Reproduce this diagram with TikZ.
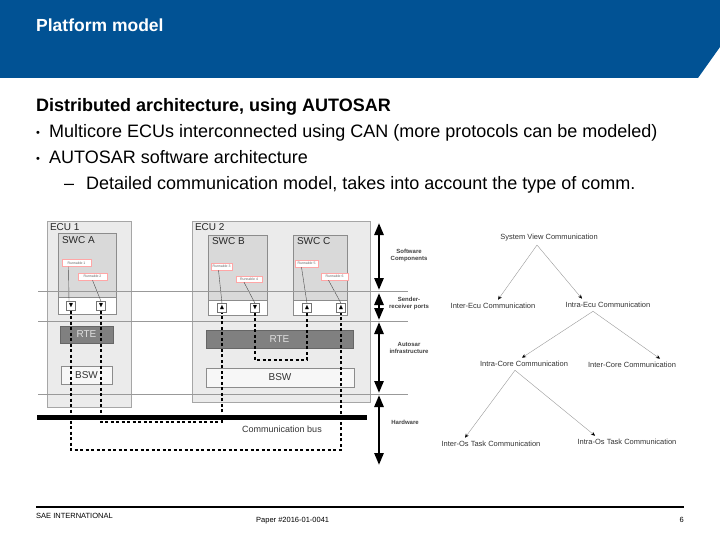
\documentclass[tikz,border=0pt]{standalone}
\usepackage{fontspec}
\setmainfont{Liberation Sans}
\usepackage{amssymb}
\usepackage{tikz}
\usetikzlibrary{positioning}
\usetikzlibrary{calc,arrows.meta}
\definecolor{saeblue}{RGB}{1,82,148}
\tikzset{
	semithick,
	ecu/.style = {draw=black!35, fill=black!8, inner sep=0pt},
	swc/.style = {draw=black!45, fill=black!15, inner sep=0pt},
	strip/.style = {draw=black!45, fill=white, inner sep=0pt},
	port/.style = {draw=black!55, fill=white, minimum size=9pt, inner sep=0pt,
		font=\fontsize{7}{7}\selectfont},
	runbox/.style = {draw=red!35, fill=white, inner sep=0pt, thin,
		font=\fontsize{3.5}{4}\selectfont, text=black!60},
	rte/.style = {draw=black!60, fill=black!50, inner sep=0pt, text=black!12,
		font=\fontsize{10}{12}\selectfont},
	bsw/.style = {draw=black!45, fill=black!3, inner sep=0pt, text=black!80,
		font=\fontsize{10}{12}\selectfont},
	blk/.style = {anchor=north west, inner sep=0pt, text=black!85,
		font=\fontsize{10}{12}\selectfont},
	sig/.style = {line width=2.2pt, dash pattern=on 3pt off 2.5pt},
	sep/.style = {draw=black!40, thin},
	layer/.style = {line width=2.6pt,
		{Triangle[width=9pt,length=12pt]}-{Triangle[width=9pt,length=12pt]}},
	lay/.style = {font=\bfseries\fontsize{6}{7}\selectfont, text=black!75, align=center},
	tree/.style = {font=\fontsize{7.5}{9}\selectfont, text=black!80},
	tarr/.style = {draw=black!40, thin, -{Stealth[length=4pt, width=3.5pt, color=black]}},
	body/.style = {anchor=base west, inner sep=0pt, font=\fontsize{18}{21}\selectfont},
	foot/.style = {inner sep=0pt, font=\fontsize{7.5}{9}\selectfont},
}
\begin{document}
\begin{tikzpicture}[x=1pt, y=-1pt]
	\useasboundingbox (0,0) rectangle (720,540);
	\fill[saeblue] (0,0) -- (720,0) -- (720,47) -- (698,78) -- (0,78) -- cycle;
	\node (title) [anchor=west, inner sep=0pt, text=white,
		font=\bfseries\fontsize{17.5}{20}\selectfont] at (36,25) {Platform model};

	\node (head) [body, font=\bfseries\fontsize{18}{21}\selectfont] at (36,112)
		{Distributed architecture, using AUTOSAR};
	\node (b1) [body, font=\fontsize{11}{12}\selectfont] at (36,137) {\textbullet};
	\node (t1) [body] at (49,138) {Multicore ECUs interconnected using CAN (more protocols can be modeled)};
	\node (b2) [body, font=\fontsize{11}{12}\selectfont] at (36,163) {\textbullet};
	\node (t2) [body] at (49,164) {AUTOSAR software architecture};
	\node (b3) [body] at (64,190) {--};
	\node (t3) [body] at (86,190) {Detailed communication model, takes into account the type of comm.};

	\node (ecua) [ecu, minimum width=84, minimum height=186] at (89,314) {};
	\node (ecub) [ecu, minimum width=178, minimum height=181] at (281,311.5) {};
	\node (ecualbl) [blk] at ([shift={(3,3)}]ecua.north west) {ECU 1};
	\node (ecublbl) [blk] at ([shift={(3,3)}]ecub.north west) {ECU 2};

	\node (swca) [swc, minimum width=58, minimum height=64] at (87,265.5) {};
	\node (stra) [strip, minimum width=58, minimum height=17] at (87,306) {};
	\node (swcb) [swc, minimum width=59, minimum height=65] at (237.5,267.5) {};
	\node (strb) [strip, minimum width=59, minimum height=15] at (237.5,307.5) {};
	\node (swcc) [swc, minimum width=54, minimum height=65] at (320,267.5) {};
	\node (strc) [strip, minimum width=54, minimum height=15] at (320,307.5) {};
	\node (swcalbl) [blk] at ([shift={(4,3)}]swca.north west) {SWC A};
	\node (swcblbl) [blk] at ([shift={(4,3)}]swcb.north west) {SWC B};
	\node (swcclbl) [blk] at ([shift={(4,3)}]swcc.north west) {SWC C};

	\node (r1) [runbox, minimum width=29, minimum height=7] at (76.5,263) {Runnable 1};
	\node (r2) [runbox, minimum width=29, minimum height=7] at (92.5,276.5) {Runnable 2};
	\node (r3) [runbox, minimum width=21, minimum height=7] at (221.5,266.5) {Runnable 3};
	\node (r4) [runbox, minimum width=26, minimum height=6] at (249,279) {Runnable 4};
	\node (r5) [runbox, minimum width=23, minimum height=7] at (306.5,263.5) {Runnable 5};
	\node (r6) [runbox, minimum width=27, minimum height=7] at (334.5,276.5) {Runnable 6};

	\node (pa1) [port] at (71,306) {$\blacktriangledown$};
	\node (pa2) [port] at (101,306) {$\blacktriangledown$};
	\node (pb1) [port] at (222,308) {$\blacktriangle$};
	\node (pb2) [port] at (255,308) {$\blacktriangledown$};
	\node (pc1) [port] at (307,308) {$\blacktriangle$};
	\node (pc2) [port] at (341,308) {$\blacktriangle$};

	\draw[black!70, thin] ([xshift=-8]r1.south) -- ([xshift=-2]pa1.north);
	\draw[black!70, thin] (r2.south) -- (pa2.north);
	\draw[black!70, thin] ([xshift=-3]r3.south) -- (pb1.north);
	\draw[black!70, thin] ([xshift=-5]r4.south) -- (pb2.north);
	\draw[black!70, thin] ([xshift=-5]r5.south) -- (pc1.north);
	\draw[black!70, thin] ([xshift=-6]r6.south) -- (pc2.north);

	\node (rtea) [rte, minimum width=53, minimum height=17] at (86.5,334.5) {RTE};
	\node (rteb) [rte, minimum width=147, minimum height=18] at (279.5,339) {RTE};
	\node (bswa) [bsw, minimum width=51, minimum height=18] at (86.5,375) {BSW};
	\node (bswb) [bsw, minimum width=148, minimum height=19] at (280,377.5) {BSW};

	\draw[sep] (38,291) -- (408,291);
	\draw[sep] (38,321) -- (408,321);
	\draw[sep] (38,394) -- (408,394);

	\node (bus) [fill=black, minimum width=330, minimum height=5, inner sep=0pt] at (202,417) {};
	\node (buslbl) [font=\fontsize{9}{11}\selectfont, text=black!80] at (282,429) {Communication bus};

	\coordinate (low) at (0,450);
	\coordinate (mid) at (0,422);
	\coordinate (inn) at (0,360);
	\draw[sig] (pa1.south) -- (pa1.south |- low) -| (pc2.south);
	\draw[sig] (pa2.south) -- (pa2.south |- mid) -| (pb1.south);
	\draw[sig] (pb2.south) -- (pb2.south |- inn) -| (pc1.south);

	\coordinate (s0) at (379,223);
	\coordinate (s1) at (379,290);
	\coordinate (s2) at (379,293);
	\coordinate (s3) at (379,320);
	\coordinate (s4) at (379,322);
	\coordinate (s5) at (379,393);
	\coordinate (s6) at (379,395);
	\coordinate (s7) at (379,465);
	\draw[layer] (s0) -- (s1);
	\draw[layer] (s2) -- (s3);
	\draw[layer] (s4) -- (s5);
	\draw[layer] (s6) -- (s7);
	\node (lsw) [lay] at (409,255) {Software\\Components};
	\node (lsr) [lay] at (409,303) {Sender-\\receiver ports};
	\node (lai) [lay] at (409,348) {Autosar\\infrastructure};
	\node (lhw) [lay] at (405,422) {Hardware};

	\node (sys) [tree] at (549,238) {System View Communication};
	\node (interecu) [tree] at (493,306) {Inter-Ecu Communication};
	\node (intraecu) [tree] at (608,305) {Intra-Ecu Communication};
	\node (intracore) [tree] at (524,364) {Intra-Core Communication};
	\node (intercore) [tree] at (632,365) {Inter-Core Communication};
	\node (interos) [tree] at (491,444) {Inter-Os Task Communication};
	\node (intraos) [tree] at (627,442) {Intra-Os Task Communication};
	\draw[tarr] ([xshift=-12]sys.south) -- ([xshift=5]interecu.north);
	\draw[tarr] ([xshift=-12]sys.south) -- ([xshift=-26]intraecu.north);
	\draw[tarr] ([xshift=-15]intraecu.south) -- ([xshift=-2]intracore.north);
	\draw[tarr] ([xshift=-15]intraecu.south) -- ([xshift=28]intercore.north);
	\draw[tarr] ([xshift=-9]intracore.south) -- ([xshift=-26]interos.north);
	\draw[tarr] ([xshift=-9]intracore.south) -- ([xshift=-32]intraos.north);

	\draw[line width=2pt] (36,507) -- (684,507);
	\node (sae) [foot, anchor=west] at (36,516) {SAE INTERNATIONAL};
	\node (paper) [foot, anchor=west] at (256,521) {Paper \#2016-01-0041};
	\node (page) [foot, anchor=east] at (684,520) {6};
\end{tikzpicture}
\end{document}
